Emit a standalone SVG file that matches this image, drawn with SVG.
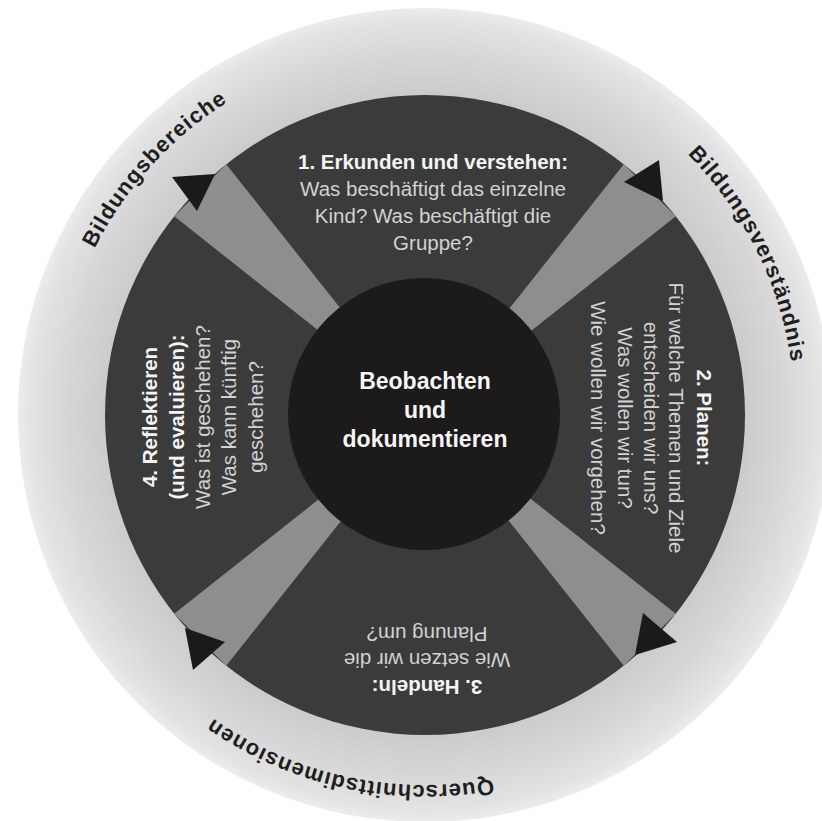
<svg xmlns="http://www.w3.org/2000/svg" xmlns:xlink="http://www.w3.org/1999/xlink" width="822" height="821" viewBox="0 0 822 821">
  <defs>
    <radialGradient id="ringGrad" gradientUnits="userSpaceOnUse" cx="425" cy="415" r="407">
      <stop offset="0.78" stop-color="#cbcbcb"/>
      <stop offset="0.88" stop-color="#d6d6d6"/>
      <stop offset="0.97" stop-color="#e3e3e3"/>
      <stop offset="1" stop-color="#ececec"/>
    </radialGradient>
    <path id="labelArc" d="M 55 415 A 370 370 0 1 1 795 415 A 370 370 0 1 1 55 415"/>
    <style>
      .ring { fill: url(#ringGrad); }
      .phase { fill: #3b3b3b; }
      .core { fill: #1c1a1a; }
      .band { fill: #8e8e8e; }
      .head { fill: #1a1a1a; }
      .hd { font-family: "Liberation Sans", Arial, sans-serif; font-weight: bold; font-size: 20.5px; fill: #f4f4f4; text-anchor: middle; }
      .bd { font-family: "Liberation Sans", Arial, sans-serif; font-size: 20.5px; fill: #d2d2d2; text-anchor: middle; }
      .ct { font-family: "Liberation Sans", Arial, sans-serif; font-weight: bold; font-size: 23px; fill: #f6f6f6; text-anchor: middle; }
      .lbl { font-family: "Liberation Sans", Arial, sans-serif; font-weight: bold; font-size: 22px; letter-spacing: 1px; fill: #1e1e1e; text-anchor: middle; }
    </style>
  </defs>

  <rect width="822" height="821" fill="#ffffff"/>

  <g id="outer-ring">
    <circle class="ring" cx="425" cy="415" r="407"/>
  </g>

  <g id="phase-ring">
    <circle class="phase" cx="425" cy="415" r="320"/>
  </g>

  <g id="connectors">
    <polygon class="band" points="425,415 174.2,216.2 226.2,164.2"/>
    <polygon class="band" points="425,415 623.8,164.2 675.8,216.2"/>
    <polygon class="band" points="425,415 675.8,613.8 623.8,665.8"/>
    <polygon class="band" points="425,415 226.2,665.8 174.2,613.8"/>
    <polygon class="head" points="172,177 215,174 197,211"/>
    <polygon class="head" points="624,182 659,160 663,201"/>
    <polygon class="head" points="643,613 677,642 635,655"/>
    <polygon class="head" points="185,628 225,642 193,670"/>
  </g>

  <g id="center">
    <circle class="core" cx="424" cy="414" r="136"/>
    <text class="ct" x="425" y="389">Beobachten</text>
    <text class="ct" x="425" y="418">und</text>
    <text class="ct" x="425" y="447">dokumentieren</text>
  </g>

  <g id="phase-1">
    <text class="hd" x="433" y="169">1. Erkunden und verstehen:</text>
    <text class="bd" x="433" y="196">Was beschäftigt das einzelne</text>
    <text class="bd" x="433" y="223">Kind? Was beschäftigt die</text>
    <text class="bd" x="433" y="250">Gruppe?</text>
  </g>

  <g id="phase-2" transform="translate(697,418) rotate(90)">
    <text class="hd" x="0" y="0">2. Planen:</text>
    <text class="bd" x="0" y="28">Für welche Themen und Ziele</text>
    <text class="bd" x="0" y="53">entscheiden wir uns?</text>
    <text class="bd" x="0" y="79">Was wollen wir tun?</text>
    <text class="bd" x="0" y="106">Wie wollen wir vorgehen?</text>
  </g>

  <g id="phase-3" transform="translate(427,680) rotate(180)">
    <text class="hd" x="0" y="0">3. Handeln:</text>
    <text class="bd" x="0" y="27">Wie setzen wir die</text>
    <text class="bd" x="0" y="53">Planung um?</text>
  </g>

  <g id="phase-4" transform="translate(157,417) rotate(-90)">
    <text class="hd" x="0" y="0">4. Reflektieren</text>
    <text class="hd" x="0" y="26.5">(und evaluieren):</text>
    <text class="bd" x="0" y="52.5">Was ist geschehen?</text>
    <text class="bd" x="0" y="79">Was kann künftig</text>
    <text class="bd" x="0" y="105.5">geschehen?</text>
  </g>

  <g id="label-bildungsbereiche">
    <text class="lbl"><textPath xlink:href="#labelArc" href="#labelArc" startOffset="273">Bildungsbereiche</textPath></text>
  </g>
  <g id="label-bildungsverstaendnis">
    <text class="lbl"><textPath xlink:href="#labelArc" href="#labelArc" startOffset="991">Bildungsverständnis</textPath></text>
  </g>
  <g id="label-querschnittsdimensionen">
    <text class="lbl"><textPath xlink:href="#labelArc" href="#labelArc" startOffset="1822">Querschnittsdimensionen</textPath></text>
  </g>
</svg>
